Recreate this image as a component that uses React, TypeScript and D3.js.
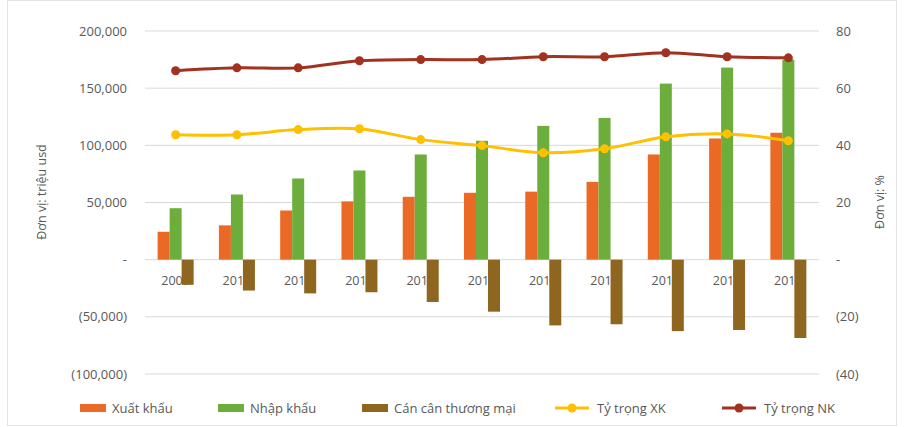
import React from "react";
import * as d3 from "d3";

const years = ["2009", "2010", "2011", "2012", "2013", "2014", "2015", "2016", "2017", "2018", "2019"];
const exportsVal = [24400, 30000, 43000, 51000, 55000, 58500, 59500, 68000, 92000, 106000, 111000];
const importsVal = [45000, 57000, 71000, 78000, 92000, 104000, 117000, 124000, 154000, 168000, 175000];
const balanceVal = [-22000, -27000, -29500, -28500, -37000, -45500, -57500, -56500, -62500, -61500, -68500];
const shareXK = [43.7, 43.7, 45.5, 45.8, 42.0, 39.9, 37.4, 38.8, 43.0, 44.0, 41.6];
const shareNK = [66.1, 67.1, 67.1, 69.6, 70.0, 70.0, 71.0, 71.0, 72.4, 71.0, 70.6];
const leftTicks = [200000, 150000, 100000, 50000, 0, -50000, -100000];
const rightTicks = [80, 60, 40, 20, 0, -20, -40];

const C_EX = "#EA6A25";
const C_IM = "#6DAD3C";
const C_BAL = "#8E6620";
const C_XK = "#FFC000";
const C_NK = "#A1321F";
const TXT = "#595959";
const FONT = "'Open Sans', 'Liberation Sans', sans-serif";

export default function App() {
  const W = 904, H = 427;
  const left = 145, right = 819, top = 31, bottom = 374;
  const x = d3.scaleBand<string>().domain(years).range([left, right]).padding(0);
  const yL = d3.scaleLinear().domain([-100000, 200000]).range([bottom, top]);
  const yR = d3.scaleLinear().domain([-40, 80]).range([bottom, top]);
  const bw = 12;
  const cx = (i: number) => (x(years[i]) as number) + x.bandwidth() / 2;

  const fmtL = (v: number) => {
    if (v === 0) return "-";
    const s = d3.format(",")(Math.abs(v));
    return v < 0 ? `(${s})` : s;
  };
  const fmtR = (v: number) => {
    if (v === 0) return "-";
    return v < 0 ? `(${Math.abs(v)})` : `${v}`;
  };

  const line = d3
    .line<number>()
    .x((_, i) => cx(i))
    .y((d) => yR(d))
    .curve(d3.curveCatmullRom.alpha(0.5));

  const legendY = 408;
  const legend = [
    { type: "rect", color: C_EX, x: 80, label: "Xuất khẩu" },
    { type: "rect", color: C_IM, x: 218, label: "Nhập khẩu" },
    { type: "rect", color: C_BAL, x: 362, label: "Cán cân thương mại" },
    { type: "line", color: C_XK, x: 555, label: "Tỷ trọng XK" },
    { type: "line", color: C_NK, x: 722, label: "Tỷ trọng NK" },
  ];

  return (
    <svg
      width={W}
      height={H}
      style={{ position: "absolute", left: 0, top: 0, background: "#fff" }}
      fontFamily={FONT}
    >
      <rect x={7.5} y={0.5} width={889} height={425} fill="#fff" stroke="#e4e4e4" />
      {leftTicks.map((t) => (
        <line key={"g" + t} x1={left} x2={right} y1={yL(t)} y2={yL(t)} stroke="#d9d9d9" strokeWidth={1} />
      ))}
      {leftTicks.map((t) => (
        <text key={"l" + t} x={127} y={yL(t)} dy="0.35em" textAnchor="end" fontSize={13} fill={TXT}>
          {fmtL(t)}
        </text>
      ))}
      {rightTicks.map((t) => (
        <text key={"r" + t} x={836} y={yR(t)} dy="0.35em" textAnchor="start" fontSize={13} fill={TXT}>
          {fmtR(t)}
        </text>
      ))}
      <text
        transform={`translate(46,192) rotate(-90)`}
        textAnchor="middle"
        fontSize={12.5}
        fill={TXT}
      >
        Đơn vị: triệu usd
      </text>
      <text
        transform={`translate(884,202) rotate(-90)`}
        textAnchor="middle"
        fontSize={12.5}
        fill={TXT}
      >
        Đơn vị: %
      </text>
      {years.map((yr, i) => (
        <text key={"x" + yr} x={cx(i)} y={281} dy="0.35em" textAnchor="middle" fontSize={12.5} fill={TXT}>
          {yr}
        </text>
      ))}
      {years.map((yr, i) => (
        <g key={"b" + yr}>
          <rect x={cx(i) - 1.5 * bw} y={yL(exportsVal[i])} width={bw} height={yL(0) - yL(exportsVal[i])} fill={C_EX} />
          <rect x={cx(i) - 0.5 * bw} y={yL(importsVal[i])} width={bw} height={yL(0) - yL(importsVal[i])} fill={C_IM} />
          <rect x={cx(i) + 0.5 * bw} y={yL(0)} width={bw} height={yL(balanceVal[i]) - yL(0)} fill={C_BAL} />
        </g>
      ))}
      <path d={line(shareXK) || ""} fill="none" stroke={C_XK} strokeWidth={3} />
      {shareXK.map((v, i) => (
        <circle key={"xk" + i} cx={cx(i)} cy={yR(v)} r={4.5} fill={C_XK} />
      ))}
      <path d={line(shareNK) || ""} fill="none" stroke={C_NK} strokeWidth={3} />
      {shareNK.map((v, i) => (
        <circle key={"nk" + i} cx={cx(i)} cy={yR(v)} r={4.5} fill={C_NK} />
      ))}
      {legend.map((l) => (
        <g key={l.label}>
          {l.type === "rect" ? (
            <rect x={l.x} y={legendY - 4} width={26} height={8} fill={l.color} />
          ) : (
            <g>
              <line x1={l.x} x2={l.x + 34} y1={legendY} y2={legendY} stroke={l.color} strokeWidth={3} />
              <circle cx={l.x + 17} cy={legendY} r={4.5} fill={l.color} />
            </g>
          )}
          <text
            x={l.type === "rect" ? l.x + 32 : l.x + 42}
            y={legendY}
            dy="0.35em"
            fontSize={13}
            fill={TXT}
          >
            {l.label}
          </text>
        </g>
      ))}
    </svg>
  );
}
